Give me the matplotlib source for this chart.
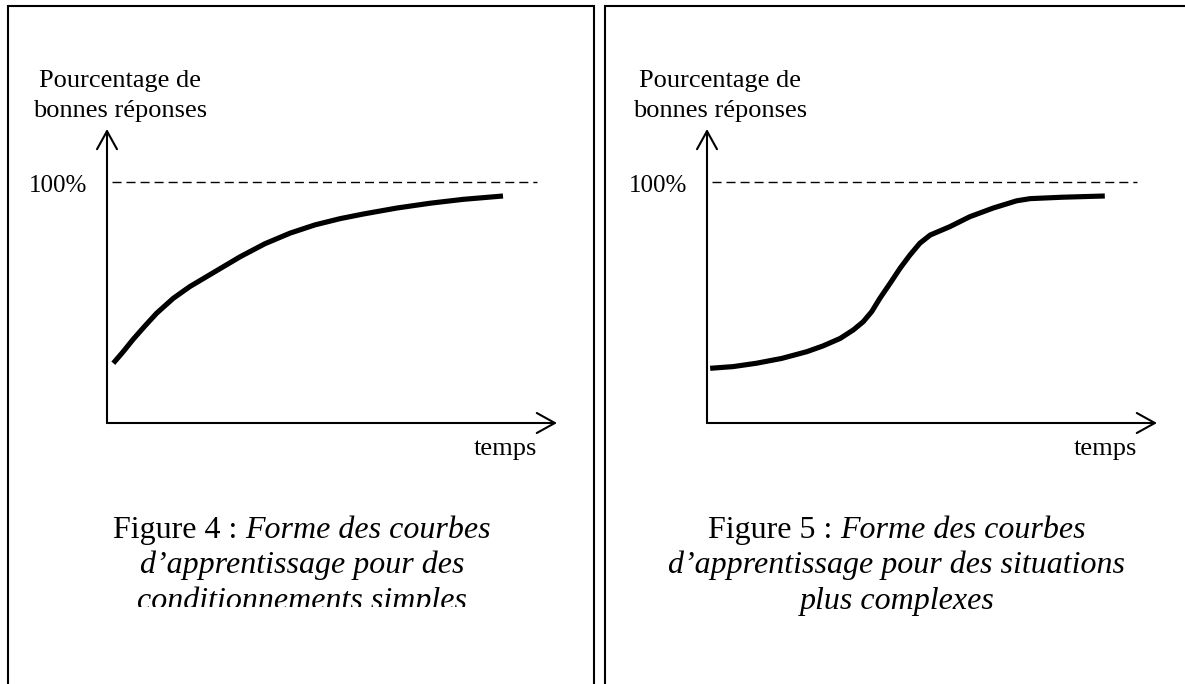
import numpy as np
import matplotlib
matplotlib.use("Agg")
import matplotlib.pyplot as plt
from matplotlib.patches import Rectangle
from matplotlib.offsetbox import TextArea, HPacker, AnnotationBbox
from matplotlib.transforms import Bbox, TransformedBbox

plt.rcParams['font.family'] = ['Liberation Serif', 'DejaVu Serif']

#%% data (time in % of axis length, response in %)
simple_t   = [1.4, 3.6, 5.8, 8.4, 11.0, 14.7, 18.4, 24.0, 29.6, 35.1, 40.7, 46.2,
              51.8, 56.9, 64.4, 71.8, 79.1, 88.0]
simple_pct = [24.8, 29.6, 34.7, 40.2, 45.5, 51.7, 56.6, 62.8, 69.0, 74.4, 78.8, 82.2,
              84.8, 86.7, 89.2, 91.2, 92.8, 94.2]

complex_t   = [0.7, 5.8, 11.0, 16.6, 22.2, 25.8, 29.6, 32.5, 34.7, 36.6, 38.4, 40.7,
               42.9, 45.1, 47.3, 49.6, 54.0, 58.4, 63.6, 68.8, 71.8, 79.1, 88.4]
complex_pct = [22.7, 23.4, 24.8, 26.8, 29.6, 32.0, 35.1, 38.6, 42.0, 46.2, 51.7, 58.0,
               64.2, 69.7, 74.6, 78.0, 81.5, 85.6, 89.2, 92.2, 93.1, 93.7, 94.2]

ceiling = 100
ylab = ["Pourcentage de", "bonnes réponses"]
xlab = "temps"
captions = [("Figure 4 :", "Forme des courbes",
             ["d\u2019apprentissage pour des", "conditionnements simples"]),
            ("Figure 5 :", "Forme des courbes",
             ["d\u2019apprentissage pour des situations", "plus complexes"])]

#%% figure
W, H = 1185, 684
fig = plt.figure(figsize=(W / 100, H / 100), dpi=100)

def fx(px):
    return px / W

def fy(py):
    return 1 - py / H

# panel frames
for left, right in [(8, 594), (605, 1195)]:
    fig.add_artist(Rectangle((fx(left), fy(700)), fx(right - left), (700 - 6) / H,
                             transform=fig.transFigure, fill=False,
                             edgecolor="black", lw=1.5, clip_on=False))

def draw_panel(x0, cx, t, pct, cap, clip_last):
    ax = fig.add_axes([fx(x0), fy(423), 450 / W, (423 - 129) / H])
    ax.set_xlim(0, 100)
    ax.set_ylim(0, 122)
    ax.axis("off")
    arrow = dict(arrowstyle="->,head_length=0.65,head_width=0.36", lw=1.5,
                 color="black", shrinkA=0, shrinkB=0, mutation_scale=20)
    ax.annotate("", xy=(1, 0), xytext=(0, 0), xycoords="axes fraction",
                arrowprops=arrow, annotation_clip=False)
    ax.annotate("", xy=(0, 1), xytext=(0, 0), xycoords="axes fraction",
                arrowprops=arrow, annotation_clip=False)
    ax.axhline(ceiling, xmin=0.012, xmax=0.955, color="black", lw=1,
               linestyle=(0, (6.5, 3.6)))
    ax.plot(t, pct, color="black", lw=3.7, solid_capstyle="butt",
            solid_joinstyle="round", clip_on=False)

    # labels
    fig.text(fx(x0 + 13), fy(87), ylab[0], fontsize=19, ha="center", va="baseline")
    fig.text(fx(x0 + 13), fy(117), ylab[1], fontsize=19, ha="center", va="baseline")
    fig.text(fx(x0 - 20), fy(192), "100%", fontsize=18, ha="right", va="baseline")
    fig.text(fx(x0 + 430), fy(455), xlab, fontsize=19, ha="right", va="baseline")

    # caption
    head, ital, rest = cap
    line1 = HPacker(children=[TextArea(head, textprops=dict(fontsize=23)),
                              TextArea(ital, textprops=dict(fontsize=23, style="italic"))],
                    sep=5.5, pad=0, align="baseline")
    ab = AnnotationBbox(line1, (fx(cx), fy(545)), xycoords="figure fraction",
                        box_alignment=(0.5, 0), frameon=False, pad=0)
    fig.add_artist(ab)
    for i, s in enumerate(rest):
        tx = fig.text(fx(cx), fy(573 + 36 * i), s, fontsize=23, style="italic",
                      ha="center", va="baseline")
        if clip_last and i == len(rest) - 1:
            tx.set_clip_box(TransformedBbox(Bbox([[0, fy(607)], [1, 1]]), fig.transFigure))
            tx.set_clip_on(True)

draw_panel(107, 302, simple_t, simple_pct, captions[0], True)
draw_panel(707, 897, complex_t, complex_pct, captions[1], False)

fig.savefig("out.png", dpi=100, facecolor="white")
